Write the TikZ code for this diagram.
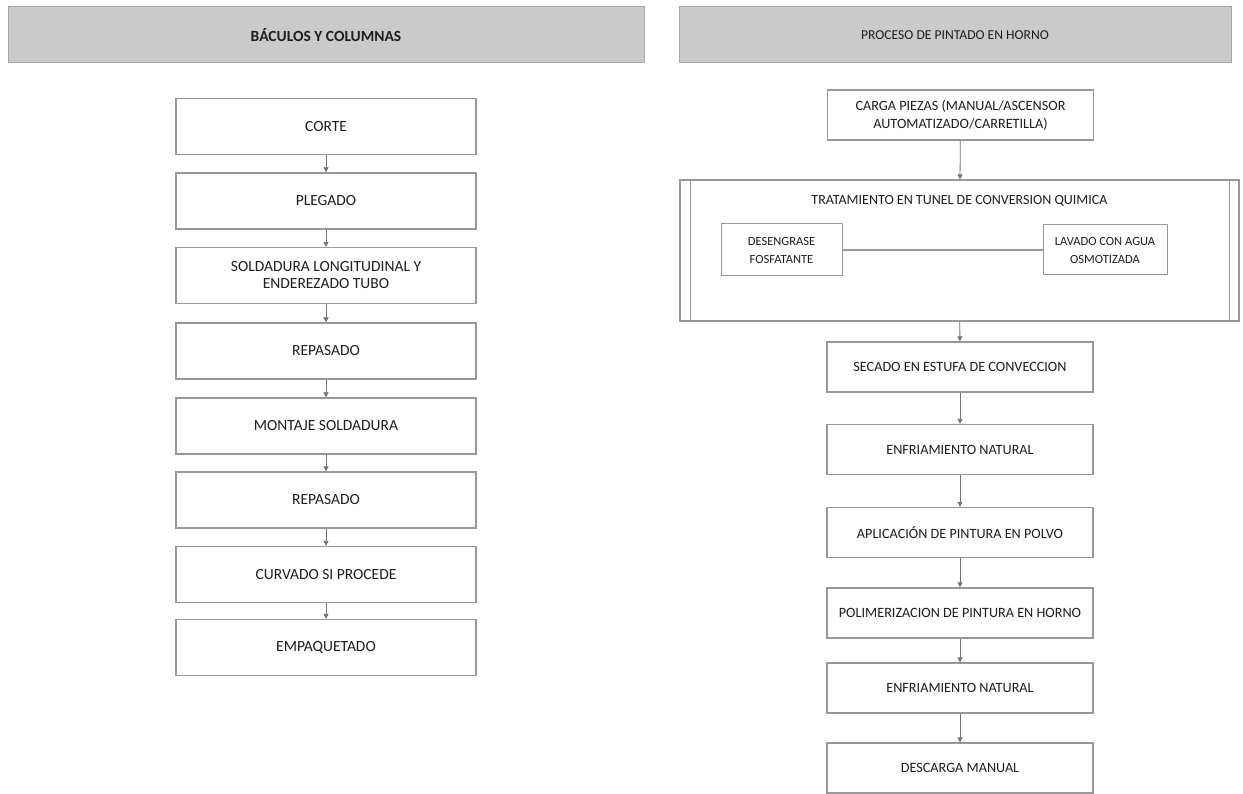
\documentclass[tikz,border=0pt]{standalone}
\usepackage{fontspec}
\setmainfont{Carlito}
\usetikzlibrary{arrows.meta}
\definecolor{hdrfill}{HTML}{CACACA}
\definecolor{hdrline}{HTML}{A8A8A8}
\definecolor{boxline}{HTML}{989898}
\definecolor{txt}{HTML}{1E1E1E}
\tikzset{
  hdr/.style={draw=hdrline, line width=1pt, fill=hdrfill, inner sep=0pt, text=txt},
  stepbox/.style={draw=boxline, line width=1.3pt, fill=white, inner sep=0pt, align=center, text=txt},
  lbox/.style={stepbox, minimum width=300pt, minimum height=56pt, font=\fontsize{15.5}{17}\selectfont},
  rbox/.style={stepbox, minimum width=266pt, minimum height=50pt, font=\fontsize{14.2}{18}\selectfont},
  ibox/.style={stepbox, line width=1pt, font=\fontsize{12.5}{18}\selectfont},
  conn/.style={draw=gray!90!black, line width=0.8pt, -{Triangle[length=5pt,width=5pt]}},
  plain/.style={draw=boxline, line width=1pt}
}
\begin{document}
\begin{tikzpicture}[x=1pt,y=-1pt]
\useasboundingbox (0,0) rectangle (1243,794);
\fill[white] (0,0) rectangle (1243,794);
% headers
\node[hdr, minimum width=636pt, minimum height=56pt, font=\bfseries\fontsize{15.5}{17}\selectfont] (h1) at (326,35) {BÁCULOS Y COLUMNAS};
\node[hdr, minimum width=552pt, minimum height=56pt, font=\fontsize{13.6}{16}\selectfont] (h2) at (955,35) {PROCESO DE PINTADO EN HORNO};
% left column
\node[lbox] (l1) at (326,126.5) {CORTE};
\node[lbox] (l2) at (326,201) {PLEGADO};
\node[lbox] (l3) at (326,275.5) {SOLDADURA LONGITUDINAL Y\\ENDEREZADO TUBO};
\node[lbox] (l4) at (326,351) {REPASADO};
\node[lbox] (l5) at (326,426) {MONTAJE SOLDADURA};
\node[lbox] (l6) at (326,500) {REPASADO};
\node[lbox] (l7) at (326,574.5) {CURVADO SI PROCEDE};
\node[lbox] (l8) at (326,647.5) {EMPAQUETADO};
\foreach \a/\b in {l1/l2,l2/l3,l3/l4,l4/l5,l5/l6,l6/l7,l7/l8}
  \draw[conn] (\a) -- (\b);
% right column
\node[rbox] (r1) at (960.5,115) {CARGA PIEZAS (MANUAL/ASCENSOR\\AUTOMATIZADO/CARRETILLA)};
\node[stepbox, minimum width=559pt, minimum height=141pt] (tun) at (959.5,250.5) {};
\draw[plain] (690,180) -- (690,321);
\draw[plain] (1229,180) -- (1229,321);
\node[text=txt, font=\fontsize{14}{16}\selectfont] (tt) at (959.5,201) {TRATAMIENTO EN TUNEL DE CONVERSION QUIMICA};
\node[ibox, minimum width=121pt, minimum height=52pt] (d1) at (781.5,250) {DESENGRASE\\FOSFATANTE};
\node[ibox, minimum width=124pt, minimum height=50pt] (d2) at (1105,250) {LAVADO CON AGUA\\OSMOTIZADA};
\draw[plain, line width=1.3pt] (d1) -- (d2);
\node[rbox] (r2) at (960,367) {SECADO EN ESTUFA DE CONVECCION};
\node[rbox] (r3) at (960,449.5) {ENFRIAMIENTO NATURAL};
\node[rbox] (r4) at (960,532.5) {APLICACIÓN DE PINTURA EN POLVO};
\node[rbox] (r5) at (960,613) {POLIMERIZACION DE PINTURA EN HORNO};
\node[rbox] (r6) at (960,688) {ENFRIAMIENTO NATURAL};
\node[rbox] (r7) at (960,768) {DESCARGA MANUAL};
\draw[conn] (r1) -- (tun);
\draw[conn] (tun) -- (r2);
\foreach \a/\b in {r2/r3,r3/r4,r4/r5,r5/r6,r6/r7}
  \draw[conn] (\a) -- (\b);
\end{tikzpicture}
\end{document}
